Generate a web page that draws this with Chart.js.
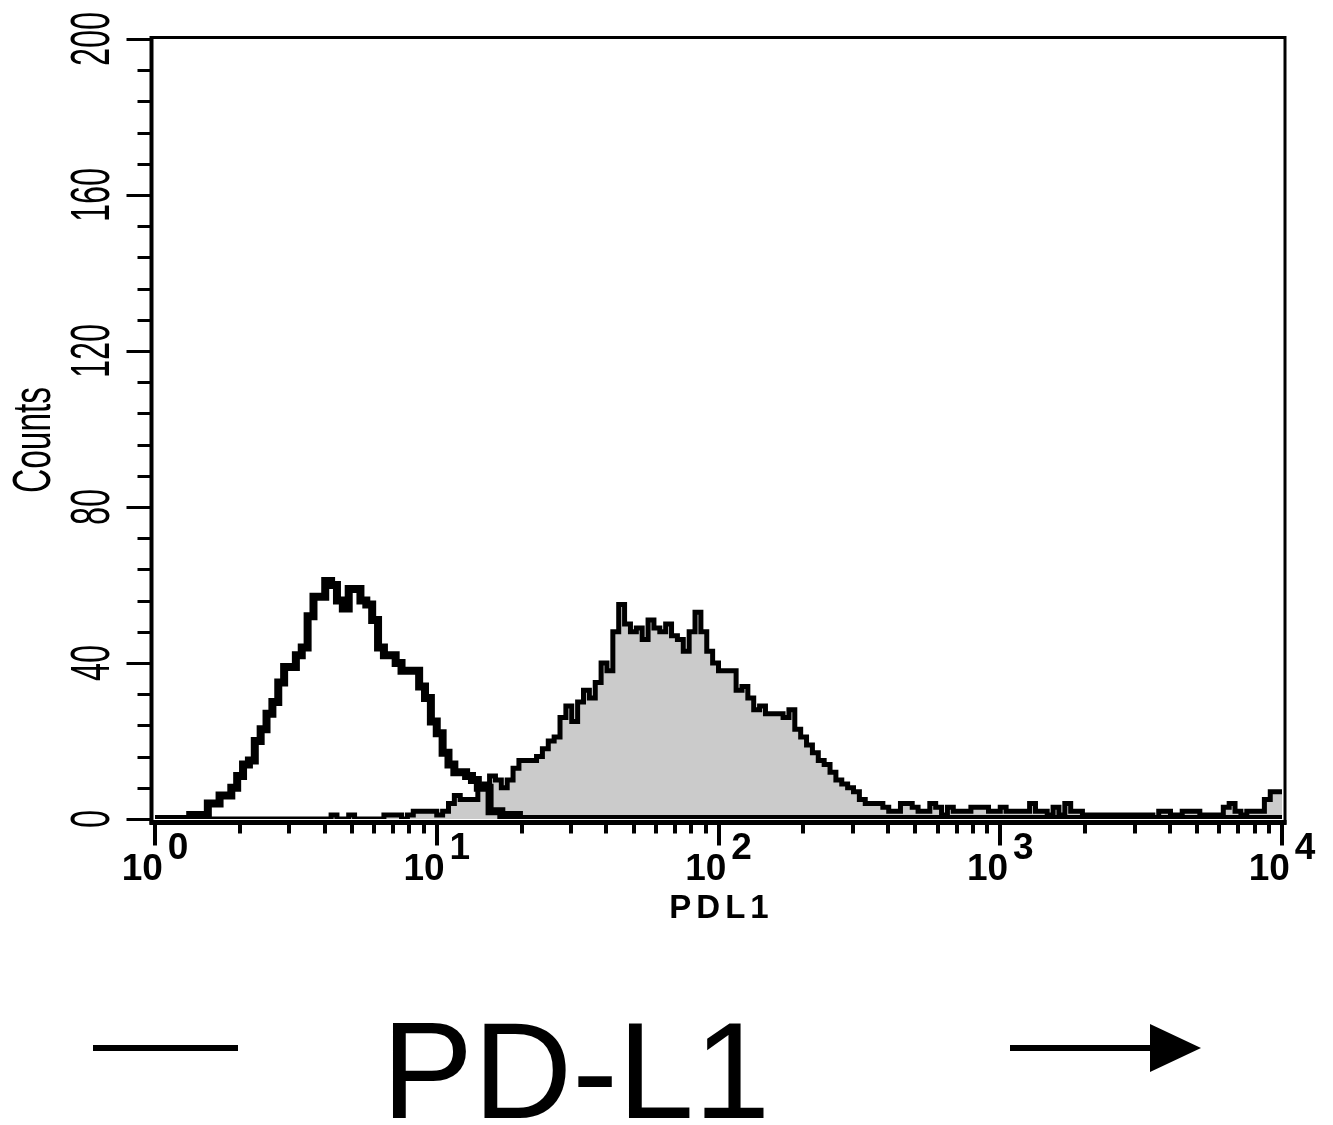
<!DOCTYPE html>
<html>
<head>
<meta charset="utf-8">
<title>PD-L1</title>
<script src="https://cdn.jsdelivr.net/npm/chart.js@4.4.0/dist/chart.umd.min.js"></script>
<style>
  html, body { margin: 0; padding: 0; background: #fff; }
  canvas { display: block; }
</style>
</head>
<body>
<canvas id="chart" width="1333" height="1125"></canvas>
<script>
// 192 channels spread over 4 log decades (48 per decade)
const channelsPerDecade = 48;
const decadeExponents = ['0', '1', '2', '3', '4'];
const countTicks = [0, 40, 80, 120, 160, 200];
const countMinorStep = 8;

// control (open black line), counts per channel
const isotypeCounts = [
  0, 0, 0, 0, 0, 0, 0, 1, 1, 1, 4, 4, 6, 6, 8, 11,
  14, 15, 20, 23, 27, 30, 35, 39, 39, 42, 44, 52, 57, 57, 61, 60,
  56, 54, 59, 59, 56, 55, 51, 44, 42, 42, 40, 38, 38, 38, 34, 31,
  25, 22, 17, 14, 12, 12, 11, 10, 8, 8, 2, 2, 1, 1, 1, 0,
  0, 0, 0, 0, 0, 0, 0, 0, 0, 0, 0, 0, 0, 0, 0, 0,
  0, 0, 0, 0, 0, 0, 0, 0, 0, 0, 0, 0, 0, 0, 0, 0,
  0, 0, 0, 0, 0, 0, 0, 0, 0, 0, 0, 0, 0, 0, 0, 0,
  0, 0, 0, 0, 0, 0, 0, 0, 0, 0, 0, 0, 0, 0, 0, 0,
  0, 0, 0, 0, 0, 0, 0, 0, 0, 0, 0, 0, 0, 0, 0, 0,
  0, 0, 0, 0, 0, 0, 0, 0, 0, 0, 0, 0, 0, 0, 0, 0,
  0, 0, 0, 0, 0, 0, 0, 0, 0, 0, 0, 0, 0, 0, 0, 0,
  0, 0, 0, 0, 0, 0, 0, 0, 0, 0, 0, 0, 0, 0, 0, 0
];

// PDL1 stained (grey filled), counts per channel
const pdl1Counts = [
  0, 0, 0, 0, 0, 0, 0, 0, 0, 0, 0, 0, 0, 0, 0, 0,
  0, 0, 0, 0, 0, 0, 0, 0, 0, 0, 0, 0, 0, 0, 0, 1,
  0, 0, 1, 0, 0, 0, 0, 0, 1, 1, 1, 0, 1, 2, 2, 2,
  2, 1, 2, 4, 6, 5, 5, 5, 8, 9, 11, 10, 8, 10, 13, 15,
  15, 15, 16, 18, 20, 21, 26, 29, 25, 30, 33, 31, 35, 40, 38, 48,
  55, 50, 48, 49, 46, 51, 49, 48, 50, 47, 46, 43, 48, 53, 48, 43,
  40, 38, 38, 38, 33, 34, 31, 28, 29, 27, 27, 27, 26, 28, 23, 21,
  19, 17, 15, 14, 12, 10, 9, 8, 7, 5, 4, 4, 4, 3, 2, 2,
  4, 4, 3, 2, 2, 4, 3, 1, 3, 2, 2, 2, 3, 3, 3, 2,
  2, 3, 2, 2, 2, 2, 4, 2, 2, 1, 3, 1, 4, 2, 2, 1,
  1, 1, 1, 1, 1, 1, 1, 1, 1, 1, 1, 0, 2, 2, 1, 1,
  2, 2, 2, 1, 1, 1, 1, 3, 4, 2, 1, 2, 2, 2, 5, 7
];

// channel index -> fluorescence value, last value held to the right edge
function toPoints(counts) {
  const pts = counts.map((c, i) => ({ x: Math.pow(10, i / channelsPerDecade), y: c }));
  pts.push({ x: Math.pow(10, counts.length / channelsPerDecade), y: counts[counts.length - 1] });
  return pts;
}

const FONT = '"Liberation Sans", Arial, sans-serif';

// frame, ticks and labels in the old cytometry style
const facsAxes = {
  id: 'facsAxes',
  afterDatasetsDraw(chart) {
    const { ctx } = chart;
    const x = chart.scales.x;
    const y = chart.scales.y;
    const left = x.left - 3.5;
    const bottom = y.bottom + 3.5;

    ctx.save();
    ctx.strokeStyle = '#000';
    ctx.fillStyle = '#000';
    ctx.lineCap = 'butt';

    // box
    ctx.lineWidth = 3;
    ctx.beginPath();
    ctx.moveTo(left, y.top - 1.5);
    ctx.lineTo(x.right + 3, y.top - 1.5);
    ctx.lineTo(x.right + 3, bottom + 2);
    ctx.stroke();
    ctx.lineWidth = 4;
    ctx.beginPath();
    ctx.moveTo(left, y.top - 3);
    ctx.lineTo(left, bottom + 2);
    ctx.stroke();
    ctx.lineWidth = 5;
    ctx.beginPath();
    ctx.moveTo(left - 2, bottom);
    ctx.lineTo(x.right + 4.5, bottom);
    ctx.stroke();

    // y ticks
    ctx.lineWidth = 3;
    ctx.beginPath();
    for (let v = 0; v <= 200; v += countMinorStep) {
      const py = Math.round(y.getPixelForValue(v)) + 0.5;
      const len = v % 40 === 0 ? 25 : 14;
      ctx.moveTo(left - len, py);
      ctx.lineTo(left, py);
    }
    ctx.stroke();

    // x ticks, 1..9 per decade
    ctx.lineWidth = 4;
    ctx.beginPath();
    for (let d = 0; d < 4; d++) {
      for (let m = 1; m <= 9; m++) {
        const px = Math.round(x.getPixelForValue(m * Math.pow(10, d)));
        ctx.moveTo(px, bottom);
        ctx.lineTo(px, bottom + (m === 1 ? 23 : 11));
      }
    }
    const pEnd = Math.round(x.getPixelForValue(10000));
    ctx.moveTo(pEnd, bottom);
    ctx.lineTo(pEnd, bottom + 23);
    ctx.stroke();

    // decade labels 10^n
    ctx.font = 'bold 37px ' + FONT;
    ctx.textAlign = 'left';
    ctx.textBaseline = 'alphabetic';
    decadeExponents.forEach((e, i) => {
      const px = x.getPixelForValue(Math.pow(10, i));
      const w1 = ctx.measureText('10').width;
      const w2 = ctx.measureText(e).width;
      const start = px - (w1 + 5 + w2) / 2;
      ctx.fillText('10', start, bottom + 57);
      ctx.fillText(e, start + w1 + 5, bottom + 36);
    });

    // x title
    ctx.font = 'bold 33px ' + FONT;
    ctx.letterSpacing = '5px';
    ctx.textAlign = 'center';
    ctx.fillText('PDL1', (x.left + x.right) / 2 + 3, bottom + 95);
    ctx.letterSpacing = '0px';

    // y labels, rotated and narrow
    ctx.font = '56px ' + FONT;
    countTicks.forEach(v => {
      const py = y.getPixelForValue(v);
      ctx.save();
      ctx.translate(left - 43, py);
      ctx.rotate(-Math.PI / 2);
      ctx.scale(0.58, 1);
      ctx.fillText(String(v), 0, 0);
      ctx.restore();
    });
    ctx.save();
    ctx.font = '54px ' + FONT;
    ctx.translate(50, (y.top + y.bottom) / 2 + 11);
    ctx.rotate(-Math.PI / 2);
    ctx.scale(0.62, 1);
    ctx.fillText('Counts', 0, 0);
    ctx.restore();

    // marker line, PD-L1 caption and arrow underneath
    const my = 1048;
    ctx.fillRect(93, my - 3, 145, 6);
    ctx.fillRect(1010, my - 3, 145, 6);
    ctx.beginPath();
    ctx.moveTo(1150, my - 24);
    ctx.lineTo(1201, my);
    ctx.lineTo(1150, my + 24);
    ctx.closePath();
    ctx.fill();
    ctx.font = '137px ' + FONT;
    ctx.textAlign = 'center';
    ctx.fillText('PD-L1', 576, 1118);

    ctx.restore();
  }
};

Chart.defaults.font.family = FONT;

new Chart(document.getElementById('chart'), {
  type: 'line',
  data: {
    datasets: [
      {
        label: 'Control',
        data: toPoints(isotypeCounts),
        stepped: 'after',
        borderColor: '#000',
        borderWidth: 8,
        borderJoinStyle: 'miter',
        pointRadius: 0,
        fill: false,
        order: 0
      },
      {
        label: 'PDL1',
        data: toPoints(pdl1Counts),
        stepped: 'after',
        borderColor: '#000',
        borderWidth: 5,
        borderJoinStyle: 'miter',
        backgroundColor: '#cbcbcb',
        pointRadius: 0,
        fill: 'origin',
        order: 1
      }
    ]
  },
  options: {
    responsive: false,
    animation: false,
    devicePixelRatio: 1,
    layout: { padding: { left: 155, right: 51, top: 39, bottom: 306 } },
    plugins: { legend: { display: false }, tooltip: { enabled: false } },
    scales: {
      x: { type: 'logarithmic', min: 1, max: 10000, display: false },
      y: { type: 'linear', min: 0, max: 200, display: false }
    }
  },
  plugins: [facsAxes]
});
</script>
</body>
</html>
